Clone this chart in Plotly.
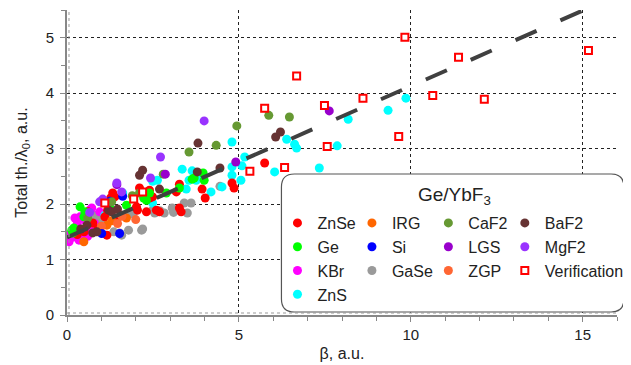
import plotly.graph_objects as go

# ---------------- data ----------------
znse_x = [0.30, 0.50, 0.61, 0.75, 0.90, 1.10, 1.16, 1.18, 1.27, 1.33, 1.39, 1.45, 1.59, 2.02, 2.05, 2.11,
          2.31, 2.40, 2.40, 2.49, 2.60, 2.69, 3.18, 3.27, 3.27, 3.32, 3.93, 4.02, 4.80, 4.86, 5.75]
znse_y = [1.45, 1.50, 1.86, 1.66, 1.55, 1.77, 1.44, 1.89, 2.11, 2.20, 2.13, 1.75, 1.80, 1.95, 1.89, 2.29,
          1.86, 2.25, 2.11, 2.13, 1.89, 1.86, 2.22, 2.36, 1.93, 1.86, 2.27, 2.11, 2.38, 2.29, 2.74]

ge_x = [0.14, 0.17, 0.20, 0.38, 0.49, 0.52, 0.58, 1.30, 1.73, 2.23, 2.31, 2.40, 2.89, 3.27, 3.64, 3.70, 3.96, 3.99]
ge_y = [1.53, 1.48, 1.57, 1.95, 1.77, 1.86, 1.78, 1.89, 1.98, 2.11, 2.07, 2.20, 2.20, 2.29, 2.45, 2.47, 2.56, 2.43]

kbr_x = [0.00, 0.06, 0.09, 0.15, 0.23, 0.23, 0.29, 0.30, 0.35, 0.38, 0.43, 0.49, 0.52, 0.60, 0.66, 0.70,
         0.72, 0.80, 0.87, 0.95]
kbr_y = [1.37, 1.32, 1.45, 1.40, 1.41, 1.75, 1.57, 1.65, 1.35, 1.77, 1.44, 1.53, 1.71, 1.42, 1.89, 1.55,
         1.93, 1.65, 1.57, 1.86]

zns_x = [1.10, 1.24, 1.62, 2.49, 2.49, 2.63, 3.35, 3.47, 3.55, 3.64, 3.76, 3.84, 4.19, 4.51, 4.80, 4.80,
         4.80, 5.06, 5.09, 5.17, 6.04, 6.39, 6.62, 6.68, 7.34, 7.86, 8.18, 9.34, 9.86]
zns_y = [1.80, 1.95, 2.20, 2.02, 2.41, 2.43, 2.63, 2.27, 2.43, 2.60, 2.43, 2.52, 2.22, 2.31, 3.12, 2.67,
         2.52, 2.43, 2.69, 2.85, 2.58, 3.17, 3.08, 3.01, 2.65, 3.05, 3.53, 3.69, 3.91]

irg_x = [0.49, 1.16, 1.30, 1.73]
irg_y = [1.32, 1.62, 1.70, 1.75]

si_x = [1.01, 1.25, 1.53, 1.62]
si_y = [1.47, 2.05, 1.47, 2.14]

gase_x = [0.81, 0.87, 1.05, 1.20, 1.36, 1.53, 1.59, 1.79, 1.82, 1.91, 2.17, 2.20, 2.49, 2.55, 2.70, 2.83,
          3.06, 3.10, 3.41, 3.50, 3.61, 4.45]
gase_y = [1.80, 1.72, 1.75, 1.85, 1.50, 1.48, 1.44, 1.53, 1.84, 1.82, 1.53, 1.55, 1.89, 1.84, 1.88, 1.84,
          1.93, 1.85, 2.02, 1.84, 2.02, 2.32]

caf2_x = [0.60, 1.30, 1.90, 2.11, 2.80, 3.55, 4.34, 4.94, 5.87, 6.47]
caf2_y = [1.75, 2.04, 2.15, 2.20, 2.54, 2.94, 3.06, 3.41, 3.60, 3.57]

lgs_x = [1.45, 2.86, 4.91, 7.63]
lgs_y = [2.35, 2.54, 2.76, 3.68]

zgp_x = [1.00, 1.47, 1.60, 2.00]
zgp_y = [1.60, 1.65, 1.78, 1.72]

baf2_x = [0.40, 0.58, 0.75, 0.87, 1.21, 1.30, 1.47, 2.11, 2.20, 2.69, 3.79, 3.81, 4.45, 6.07, 6.21]
baf2_y = [1.55, 1.62, 1.48, 1.50, 1.89, 1.86, 1.91, 2.52, 2.61, 2.27, 2.58, 3.10, 2.65, 3.21, 3.30]

mgf2_x = [0.66, 0.95, 1.04, 1.45, 1.59, 2.43, 2.72, 3.99]
mgf2_y = [1.85, 2.04, 2.09, 2.38, 2.22, 2.47, 2.85, 3.50]

verif_x = [1.10, 1.94, 2.20, 5.32, 5.75, 6.33, 6.68, 7.49, 7.57, 8.61, 9.65, 9.83, 10.64, 11.39, 12.14, 15.17]
verif_y = [2.02, 2.09, 2.22, 2.59, 3.73, 2.66, 4.31, 3.78, 3.04, 3.91, 3.22, 5.01, 3.96, 4.65, 3.89, 4.77]

fit_x = [0.0, 15.0]
fit_y = [1.40, 5.49]

x_ticks = [0, 5, 10, 15]
y_ticks = [0, 1, 2, 3, 4, 5]

FONT = "Liberation Sans, Arial, sans-serif"

# (name, x, y, colour, legend, rank)
series = [
    ("GaSe", gase_x, gase_y, "#9a9a9a", "legend2", 3),
    ("KBr", kbr_x, kbr_y, "#ff00ff", "legend", 3),
    ("ZnS", zns_x, zns_y, "#00ffff", "legend", 4),
    ("ZnSe", znse_x, znse_y, "#ff0000", "legend", 1),
    ("Ge", ge_x, ge_y, "#00ff00", "legend", 2),
    ("IRG", irg_x, irg_y, "#ff6600", "legend2", 1),
    ("ZGP", zgp_x, zgp_y, "#ff6633", "legend3", 3),
    ("Si", si_x, si_y, "#0000ff", "legend2", 2),
    ("CaF2", caf2_x, caf2_y, "#669933", "legend3", 1),
    ("BaF2", baf2_x, baf2_y, "#663333", "legend4", 1),
    ("LGS", lgs_x, lgs_y, "#9900cc", "legend3", 2),
    ("MgF2", mgf2_x, mgf2_y, "#9933ff", "legend4", 2),
]

fig = go.Figure()
for name, xs, ys, col, leg, rank in series:
    fig.add_trace(go.Scatter(
        x=xs, y=ys, mode="markers", name=name, legend=leg, legendrank=rank,
        marker=dict(size=9, color=col, line=dict(width=0)),
    ))

fig.add_trace(go.Scatter(
    x=fit_x, y=fit_y, mode="lines", showlegend=False,
    line=dict(color="#404040", width=4, dash="23px,26px"),
))

fig.add_trace(go.Scatter(
    x=verif_x, y=verif_y, mode="markers", name="Verification", legend="legend4", legendrank=3,
    marker=dict(symbol="square", size=7, color="white", line=dict(color="#ff0000", width=2)),
))

# ---------------- layout ----------------
# page has an 8px body margin: figure is drawn from (8, 8)
OFF = 8
PL, PR, PT, PB = 67, 621, 10, 315          # plot area in page pixels
W, H = 631 - OFF, 365 - OFF
L, T = PL - OFF, PT - OFF
R, B = W + OFF - PR, H + OFF - PB
pw, ph = PR - PL, PB - PT

def px_x(p):
    return (p - PL) / pw

def px_y(p):
    return (PB - p) / ph

leg_common = dict(
    bgcolor="rgba(0,0,0,0)", borderwidth=0, orientation="v",
    font=dict(family=FONT, size=16, color="#222222"),
    xanchor="left", yanchor="top", itemclick=False, itemdoubleclick=False,
    tracegroupgap=0,
)
leg_top = px_y(206)
fig.update_layout(
    legend=dict(x=px_x(279), y=leg_top, **leg_common),
    legend2=dict(x=px_x(354), y=leg_top, **leg_common),
    legend3=dict(x=px_x(431), y=leg_top, **leg_common),
    legend4=dict(x=px_x(508), y=leg_top, **leg_common),
)

# rounded legend box
x0, x1 = px_x(283), px_x(628)
y0, y1 = px_y(312), px_y(174)
rx, ry = 13 / pw, 13 / ph
path = (f"M {x0+rx},{y1} L {x1-rx},{y1} Q {x1},{y1} {x1},{y1-ry} "
        f"L {x1},{y0+ry} Q {x1},{y0} {x1-rx},{y0} L {x0+rx},{y0} "
        f"Q {x0},{y0} {x0},{y0+ry} L {x0},{y1-ry} Q {x0},{y1} {x0+rx},{y1} Z")

shapes = [
    dict(type="path", xref="paper", yref="paper", path=path, fillcolor="white",
         line=dict(color="#555555", width=1.2), layer="above"),
    # dotted inner lines along the axes
    dict(type="line", xref="paper", yref="paper", x0=2 / pw, x1=2 / pw, y0=0, y1=1,
         line=dict(color="#999999", width=1, dash="dot"), layer="above"),
    dict(type="line", xref="paper", yref="paper", x0=0, x1=1, y0=2 / ph, y1=2 / ph,
         line=dict(color="#999999", width=1, dash="dot"), layer="above"),
]

fig.update_layout(
    width=W, height=H,
    margin=dict(l=L, r=R, t=T, b=B),
    paper_bgcolor="white", plot_bgcolor="white",
    font=dict(family=FONT, size=15, color="#222222"),
    shapes=shapes,
    annotations=[dict(text="Ge/YbF<sub>3</sub>", xref="paper", yref="paper",
                      x=px_x(457), y=px_y(196), xanchor="center", yanchor="middle",
                      showarrow=False,
                      font=dict(family=FONT, size=19, color="#222222"))],
    xaxis=dict(
        range=[0, 16], tickvals=x_ticks, ticktext=[str(v) for v in x_ticks],
        automargin=False,
        showgrid=True, gridcolor="#222222", griddash="dot", gridwidth=1,
        showline=True, linecolor="#888888", linewidth=2,
        ticks="outside", ticklen=5, tickcolor="#888888", tickwidth=1,
        minor=dict(dtick=1, ticks="outside", ticklen=4, tickcolor="#888888", showgrid=False),
        zeroline=False,
        tickfont=dict(family=FONT, size=15, color="#222222"),
        title=dict(text="β, a.u.", font=dict(family=FONT, size=16, color="#222222"), standoff=6),
    ),
    yaxis=dict(
        range=[0, 5.5], tickvals=y_ticks, ticktext=[str(v) for v in y_ticks],
        automargin=False,
        showgrid=True, gridcolor="#222222", griddash="dot", gridwidth=1,
        showline=True, linecolor="#888888", linewidth=2,
        ticks="outside", ticklen=5, tickcolor="#888888", tickwidth=1,
        ticklabelstandoff=3,
        minor=dict(dtick=0.5, ticks="outside", ticklen=4, tickcolor="#888888", showgrid=False),
        zeroline=False,
        tickfont=dict(family=FONT, size=15, color="#222222"),
        title=dict(text="Total th./λ<sub>0</sub>, a.u.", font=dict(family=FONT, size=16, color="#222222"),
                   standoff=14),
    ),
)

fig.write_html("out.html")
